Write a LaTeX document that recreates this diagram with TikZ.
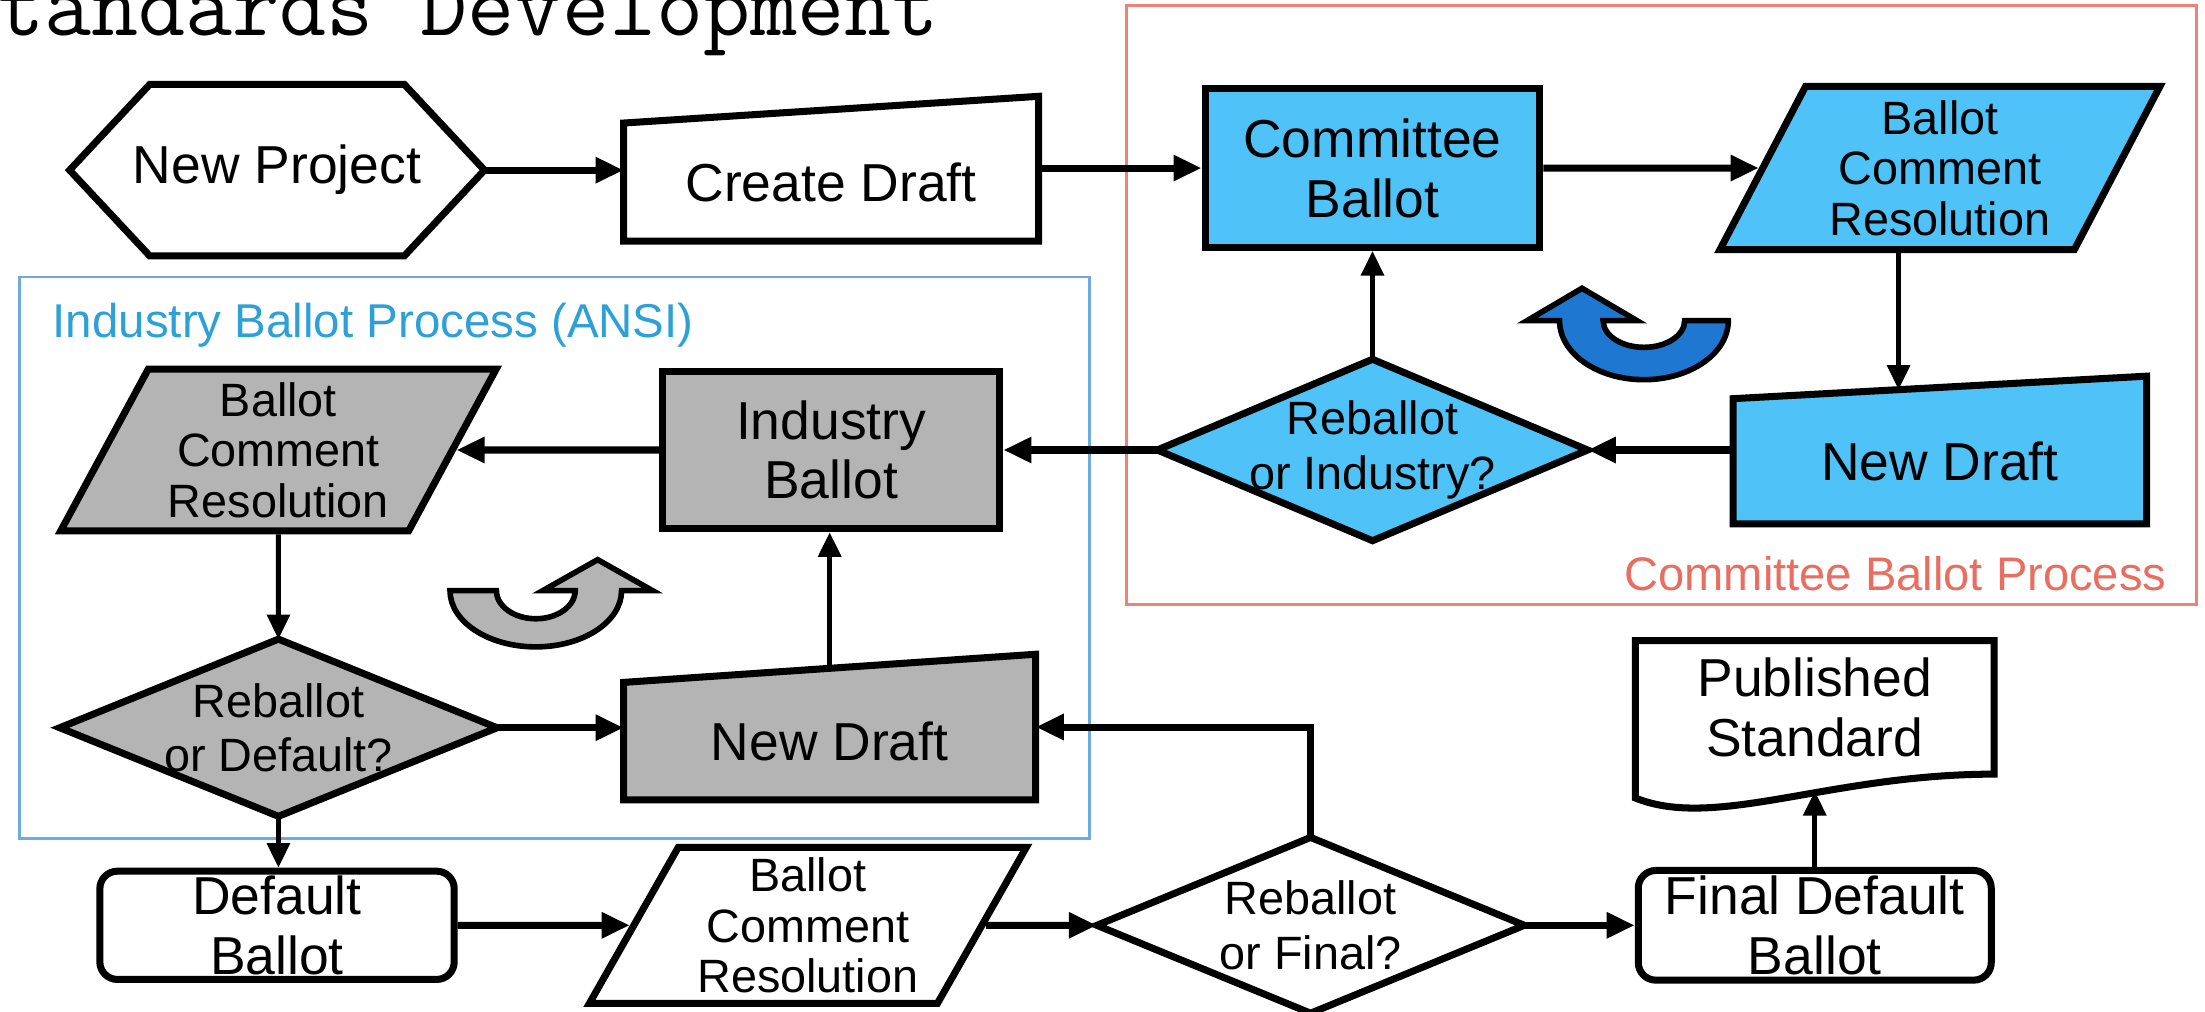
\documentclass[tikz,border=0pt]{standalone}
\usepackage{fontspec}
\setmainfont{Liberation Sans}
\usetikzlibrary{arrows.meta,shapes.geometric,backgrounds,calc}

\definecolor{cbblue}{RGB}{79,195,247}
\definecolor{cbarrow}{RGB}{30,120,210}
\definecolor{ibgray}{RGB}{180,180,180}
\definecolor{cbframe}{RGB}{238,130,118}
\definecolor{cbtext}{RGB}{232,110,98}
\definecolor{ibframe}{RGB}{110,170,220}
\definecolor{ibtext}{RGB}{45,160,215}

\tikzset{
  txt/.style={inner sep=0pt, align=center, font=\fontsize{15.2}{17}\selectfont},
  qtxt/.style={inner sep=0pt, align=center, font=\fontsize{13.3}{15.5}\selectfont},
  rtxt/.style={inner sep=0pt, align=center, font=\fontsize{13.3}{14.4}\selectfont},
  outline/.style={draw, line width=2pt},
  flow/.style={line width=2pt, -{Triangle[length=8pt, width=7pt]}},
  flowv/.style={line width=1.4pt, -{Triangle[length=7pt, width=6.4pt]}},
  loopy/.style={line width=1.6pt},
}

\begin{document}
\begin{tikzpicture}[x=0.4pt, y=-0.4pt]
  \useasboundingbox (0,0) rectangle (1568,719);
  \begin{scope}
    \clip (0,0) rectangle (1568,719);
    \node[anchor=base west, inner sep=0pt, font=\ttfamily\fontsize{26}{30}\selectfont] (title) at (-36,25) {Standards Development};
  \end{scope}

  % top row
  \node[txt, minimum width=117.6pt, minimum height=48.4pt] (np) at (197,121) {New Project};
  \node[txt, minimum width=117.6pt, minimum height=33.2pt] (cd) at (591,129.5) {Create Draft};
  \node[txt, outline, fill=cbblue, minimum width=95.2pt, minimum height=45.2pt] (cb) at (976,119.5) {Committee\\Ballot};
  \node[rtxt, outline, fill=cbblue, trapezium, trapezium stretches=true,
        trapezium left angle=62.6, trapezium right angle=117.4,
        minimum width=125.2pt, minimum height=46.4pt] (bcr) at (1379.5,119.5) {Ballot\\Comment\\Resolution};

  % committee loop
  \node[txt, minimum width=117.2pt, minimum height=35.2pt] (bnd) at (1379.5,328) {New Draft};
  \node[qtxt, minimum width=122pt, minimum height=51.2pt] (ri) at (976,320) {Reballot\\or Industry?};
  \node[anchor=base east, inner sep=0pt, text=cbtext, font=\fontsize{13.4}{16}\selectfont] (cblabel) at (1541,420) {Committee Ballot Process};

  % industry loop
  \node[anchor=base west, inner sep=0pt, text=ibtext, font=\fontsize{13.5}{16}\selectfont] (iblabel) at (37,240) {Industry Ballot Process (ANSI)};
  \node[txt, outline, fill=ibgray, minimum width=96pt, minimum height=44.8pt] (ib) at (591,320) {Industry\\Ballot};
  \node[rtxt, outline, fill=ibgray, trapezium, trapezium stretches=true,
        trapezium left angle=61.3, trapezium right angle=118.7,
        minimum width=124pt, minimum height=46pt] (gbcr) at (198,320) {Ballot\\Comment\\Resolution};
  \node[qtxt, minimum width=124pt, minimum height=50pt] (rd) at (198,517.5) {Reballot\\or Default?};
  \node[txt, minimum width=116.8pt, minimum height=33pt] (gnd) at (590,527) {New Draft};

  % bottom row
  \node[txt, outline, rounded corners=5pt, minimum width=100.8pt, minimum height=30.8pt] (db) at (197,658) {Default\\Ballot};
  \node[rtxt, outline, trapezium, trapezium stretches=true,
        trapezium left angle=60.8, trapezium right angle=119.2,
        minimum width=124.4pt, minimum height=44.4pt] (bcrw) at (574.5,658) {Ballot\\Comment\\Resolution};
  \node[qtxt, minimum width=121.2pt, minimum height=49.6pt] (rf) at (932,658) {Reballot\\or Final?};
  \node[txt, outline, rounded corners=5pt, minimum width=100.4pt, minimum height=31.2pt] (fdb) at (1290.5,658) {Final Default\\Ballot};
  \node[txt, minimum width=101.6pt, minimum height=37.6pt] (ps) at (1290.5,503) {Published\\Standard};

  % outlines behind the texts
  \begin{scope}[on background layer]
    \draw[cbframe, line width=0.8pt] (801,4) rectangle (1562,430);
    \draw[ibframe, line width=0.8pt] (14,197) rectangle (775,596);
    \draw[outline] (np.west) -- ([xshift=22.8pt]np.north west) -- ([xshift=-22.8pt]np.north east)
      -- (np.east) -- ([xshift=-22.8pt]np.south east) -- ([xshift=22.8pt]np.south west) -- cycle;
    \draw[outline] (cd.south west) -- (cd.south east) -- ([yshift=7.6pt]cd.north east) -- (cd.north west) -- cycle;
    \draw[outline, fill=cbblue] (bnd.south west) -- (bnd.south east) -- ([yshift=6.4pt]bnd.north east) -- (bnd.north west) -- cycle;
    \draw[outline, fill=cbblue] (ri.north) -- (ri.east) -- (ri.south) -- (ri.west) -- cycle;
    \draw[outline, fill=ibgray] (rd.north) -- (rd.east) -- (rd.south) -- (rd.west) -- cycle;
    \draw[outline, fill=ibgray] (gnd.south west) -- (gnd.south east) -- ([yshift=8pt]gnd.north east) -- (gnd.north west) -- cycle;
    \draw[outline] (rf.north) -- (rf.east) -- (rf.south) -- (rf.west) -- cycle;
    \draw[outline] (ps.north west) -- (ps.north east) -- (ps.south east)
      .. controls ([xshift=-46.8pt]ps.south east) and ([xshift=22.8pt,yshift=-16pt]ps.south west) .. ([yshift=-6.8pt]ps.south west) -- cycle;
  \end{scope}

  % loop arrows
  \draw[loopy, fill=cbarrow] (1229,228) arc[start angle=0, end angle=180, x radius=60, y radius=42]
    -- (1086,228) -- (1125,205) -- (1164,228) -- (1140,228)
    arc[start angle=180, end angle=0, x radius=29, y radius=19] -- cycle;
  \draw[loopy, fill=ibgray] (320,420) arc[start angle=180, end angle=0, x radius=61, y radius=40]
    -- (464,420) -- (425,398) -- (386,420) -- (409,420)
    arc[start angle=0, end angle=180, x radius=28, y radius=20] -- cycle;

  % connectors
  \coordinate (bnd-in) at ($(bnd.north west)!0.4!([yshift=6.4pt]bnd.north east)$);
  \coordinate (gnd-out) at ($(gnd.north west)!0.5!([yshift=8pt]gnd.north east)$);
  \draw[flow] (np.east) -- (np.east -| cd.west);
  \draw[flow] (cd.east |- cb.west) -- (cb.west);
  \draw[flow] (cb) -- (bcr);
  \draw[flowv] (bnd-in |- bcr.south) -- (bnd-in);
  \draw[flow] (bnd.west |- ri.east) -- (ri.east);
  \draw[flowv] (ri.north) -- (cb.south);
  \draw[flow] (ri.west) -- (ri.west -| ib.east);
  \draw[flow] (ib) -- (gbcr);
  \draw[flowv] (gbcr.south) -- (rd.north);
  \draw[flow] (rd.east) -- (rd.east -| gnd.west);
  \draw[flowv] (gnd-out) -- (gnd-out |- ib.south);
  \draw[flowv] (rd.south) -- (rd.south |- db.north);
  \draw[flow] (db) -- (bcrw);
  \draw[flow] (bcrw) -- (rf.west);
  \draw[flow] (rf.east) -- (fdb.west);
  \draw[flowv] (fdb.north) -- ([yshift=-4.8pt]ps.south);
  \draw[flow] (rf.north) |- ([yshift=4pt]gnd.east);
\end{tikzpicture}
\end{document}
